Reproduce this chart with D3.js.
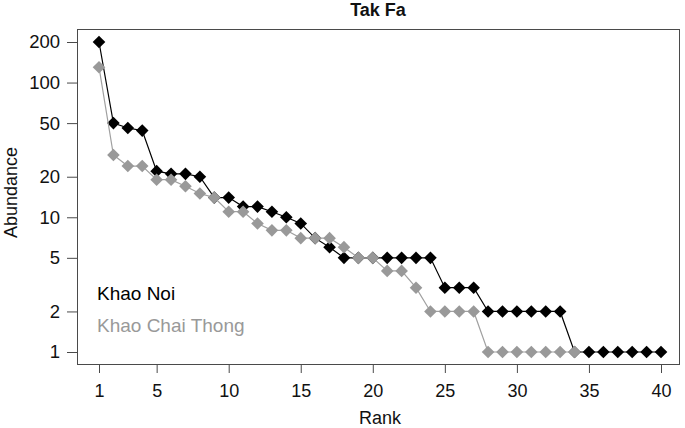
<!DOCTYPE html>
<html>
<head>
<meta charset="utf-8">
<script src="https://cdn.jsdelivr.net/npm/d3@7"></script>
<style>
  html, body { margin: 0; padding: 0; background: #fff; }
  svg { display: block; font-family: "Liberation Sans", Arial, Helvetica, sans-serif; }
</style>
</head>
<body>
<svg id="chart" width="685" height="428"></svg>
<script>
const title = "Tak Fa";
const seriesNames = ["Khao Noi", "Khao Chai Thong"];
const khaoNoi = [200,50,46,44,22,21,21,20,14,14,12,12,11,10,9,7,6,5,5,5,5,5,5,5,3,3,3,2,2,2,2,2,2,1,1,1,1,1,1,1];
const khaoChaiThong = [130,29,24,24,19,19,17,15,14,11,11,9,8,8,7,7,7,6,5,5,4,4,3,2,2,2,2,1,1,1,1,1,1,1];
const xTicks = [1,5,10,15,20,25,30,35,40];
const yTicks = [1,2,5,10,20,50,100,200];
const xLabel = "Rank";
const yLabel = "Abundance";

const svg = d3.select("#chart");
const box = {left: 77, right: 679, top: 29, bottom: 364};

const x = d3.scaleLinear().domain([1, 40]).range([99, 661]);
const y = d3.scaleLog().domain([1, 200]).range([352, 42]);

// plot box
svg.append("rect")
  .attr("x", box.left + 0.5).attr("y", box.top + 0.5)
  .attr("width", box.right - box.left).attr("height", box.bottom - box.top)
  .attr("fill", "none").attr("stroke", "#4a4a4a").attr("stroke-width", 1);

// x axis
const xAxis = d3.axisBottom(x).tickValues(xTicks).tickSize(8).tickPadding(11).tickFormat(d3.format("d"));
const gx = svg.append("g").attr("transform", `translate(0,${box.bottom + 1})`).call(xAxis);
gx.select(".domain").remove();
gx.selectAll(".tick line").attr("stroke", "#4a4a4a");
gx.selectAll(".tick text").attr("font-size", 18).attr("fill", "#111").attr("font-family", "Liberation Sans, Arial, sans-serif");

// y axis
const yAxis = d3.axisLeft(y).tickValues(yTicks).tickSize(10).tickPadding(7).tickFormat(d3.format("d"));
const gy = svg.append("g").attr("transform", `translate(${box.left},0)`).call(yAxis);
gy.select(".domain").remove();
gy.selectAll(".tick line").attr("stroke", "#4a4a4a");
gy.selectAll(".tick text").attr("font-size", 18.5).attr("fill", "#111").attr("font-family", "Liberation Sans, Arial, sans-serif");

// title
svg.append("text").attr("x", (box.left + box.right) / 2).attr("y", 16)
  .attr("text-anchor", "middle").attr("font-size", 18).attr("font-weight", "bold")
  .attr("fill", "#111").text(title);

// axis labels
svg.append("text").attr("x", (box.left + box.right) / 2 + 2).attr("y", 424)
  .attr("text-anchor", "middle").attr("font-size", 18).attr("fill", "#111").text(xLabel);
svg.append("text").attr("transform", `translate(17,${(box.top + box.bottom) / 2 - 4}) rotate(-90)`)
  .attr("text-anchor", "middle").attr("font-size", 18).attr("fill", "#111").text(yLabel);

const diamond = (cx, cy, r) => `M${cx},${cy - r}L${cx + r},${cy}L${cx},${cy + r}L${cx - r},${cy}Z`;

function drawSeries(values, lineColor, pointColor) {
  const line = d3.line().x((d, i) => x(i + 1)).y(d => y(d));
  svg.append("path").datum(values).attr("d", line)
    .attr("fill", "none").attr("stroke", lineColor).attr("stroke-width", 1.2);
  svg.append("g").selectAll("path").data(values).join("path")
    .attr("d", (d, i) => diamond(x(i + 1), y(d), 6.3))
    .attr("fill", pointColor);
}
drawSeries(khaoNoi, "#000", "#000");
drawSeries(khaoChaiThong, "#a0a0a0", "#999");

// legend
svg.append("text").attr("x", 97).attr("y", 300).attr("font-size", 19).attr("fill", "#000").text(seriesNames[0]);
svg.append("text").attr("x", 97).attr("y", 332).attr("font-size", 19).attr("fill", "#999").text(seriesNames[1]);
</script>
</body>
</html>
